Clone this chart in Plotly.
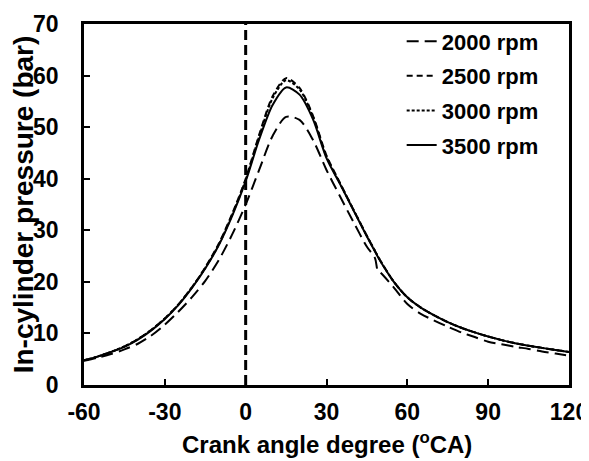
import plotly.graph_objects as go

crank_angle = [-60, -55, -50, -45, -40, -35, -30, -25, -20, -15, -10, -5, 0, 5, 10, 15, 20, 25, 30,
               35, 40, 45, 48, 49, 50, 55, 60, 65, 70, 75, 80, 85, 90, 95, 100, 105, 110, 115, 120]

p_2000 = [4.7, 5.3, 6.0, 6.9, 8.0, 9.6, 11.7, 14.2, 17.0, 20.2, 24.2, 29.2, 35.0, 41.7, 48.3, 52.0, 51.4, 47.5, 41.7,
          36.6, 31.6, 26.8, 24.6, 22.2, 21.8, 18.9, 15.7, 13.8, 12.5, 11.3, 10.2, 9.3, 8.4, 7.9, 7.4, 7.0, 6.5, 6.1, 5.7]
p_2500 = [4.8, 5.5, 6.4, 7.5, 8.9, 10.7, 12.9, 15.6, 18.9, 22.8, 27.4, 33.2, 40.0, 48.5, 56.0, 59.5, 57.6, 52.2, 44.5,
          39.2, 34.0, 28.9, 26.0, 25.0, 24.1, 20.0, 17.0, 15.0, 13.5, 12.2, 11.1, 10.2, 9.4, 8.7, 8.1, 7.6, 7.2, 6.8, 6.4]
p_3000 = [4.8, 5.5, 6.4, 7.5, 8.9, 10.7, 12.9, 15.6, 18.9, 22.7, 27.2, 33.0, 39.8, 48.2, 55.6, 59.1, 57.3, 52.0, 44.3,
          39.1, 34.0, 28.9, 26.0, 25.0, 24.1, 20.0, 17.0, 15.0, 13.5, 12.2, 11.1, 10.2, 9.4, 8.7, 8.1, 7.6, 7.2, 6.8, 6.4]
p_3500 = [4.8, 5.5, 6.4, 7.4, 8.8, 10.6, 12.8, 15.5, 18.8, 22.6, 27.1, 32.8, 39.5, 47.6, 54.3, 57.7, 56.3, 51.5, 44.0,
          39.0, 33.9, 28.8, 25.9, 24.9, 24.0, 20.0, 17.0, 15.0, 13.5, 12.2, 11.1, 10.2, 9.4, 8.7, 8.1, 7.6, 7.2, 6.8, 6.4]

series_names = ["2000 rpm", "2500 rpm", "3000 rpm", "3500 rpm"]
series_values = [p_2000, p_2500, p_3000, p_3500]
dashes = ["12px,6px", "6px,4px", "3px,2px", "solid"]

x_ticks = [-60, -30, 0, 30, 60, 90, 120]
y_ticks = [0, 10, 20, 30, 40, 50, 60, 70]

x_title = "Crank angle degree (<sup>o</sup>CA)"
y_title = "In-cylinder pressure (bar)"

FONT = "Liberation Sans, Arial, sans-serif"

fig = go.Figure()
for i, (name, vals, d) in enumerate(zip(series_names, series_values, dashes)):
    fig.add_trace(go.Scatter(
        x=crank_angle, y=vals, name=name, mode="lines",
        line=dict(color="black", width=2, dash=d, shape="spline", smoothing=0.8),
        legendgroup=f"g{i}",
    ))

fig.add_shape(type="line", xref="x", yref="y", x0=0, x1=0, y0=0, y1=70,
              line=dict(color="black", width=3, dash="10px,5px"))

fig.add_annotation(text=x_title, xref="paper", yref="paper", x=0.5, y=-0.16,
                   xanchor="center", yanchor="middle", showarrow=False,
                   font=dict(family=FONT, size=24, weight="bold", color="black"))

fig.update_layout(
    width=589, height=461,
    margin=dict(l=76, r=28, t=12, b=84),
    paper_bgcolor="white", plot_bgcolor="white",
    font=dict(family=FONT, color="black", size=22),
    showlegend=True,
    legend=dict(x=0.655, y=1.01, xanchor="left", yanchor="top",
                bgcolor="rgba(0,0,0,0)", borderwidth=0,
                font=dict(family=FONT, size=22, weight="bold", color="black"),
                tracegroupgap=3, itemwidth=30),
)

fig.update_xaxes(
    range=[-60, 120], tickvals=x_ticks, ticktext=[str(v) for v in x_ticks],
    showline=True, linecolor="black", linewidth=2.5, mirror=True,
    ticks="inside", ticklen=6, tickwidth=2, tickcolor="black",
    showgrid=False, zeroline=False, automargin=False,
    tickfont=dict(family=FONT, size=23, weight="bold"),
    ticklabelstandoff=5,
)
fig.update_yaxes(
    range=[0, 70], tickvals=y_ticks, ticktext=[str(v) for v in y_ticks],
    showline=True, linecolor="black", linewidth=2.5, mirror=True,
    ticks="inside", ticklen=6, tickwidth=2, tickcolor="black",
    showgrid=False, zeroline=False, automargin=False,
    tickfont=dict(family=FONT, size=23, weight="bold"),
    ticklabelstandoff=18,
    title=dict(text=y_title,
               font=dict(family=FONT, size=28, weight="bold"), standoff=2),
)

fig.write_html("out.html")
